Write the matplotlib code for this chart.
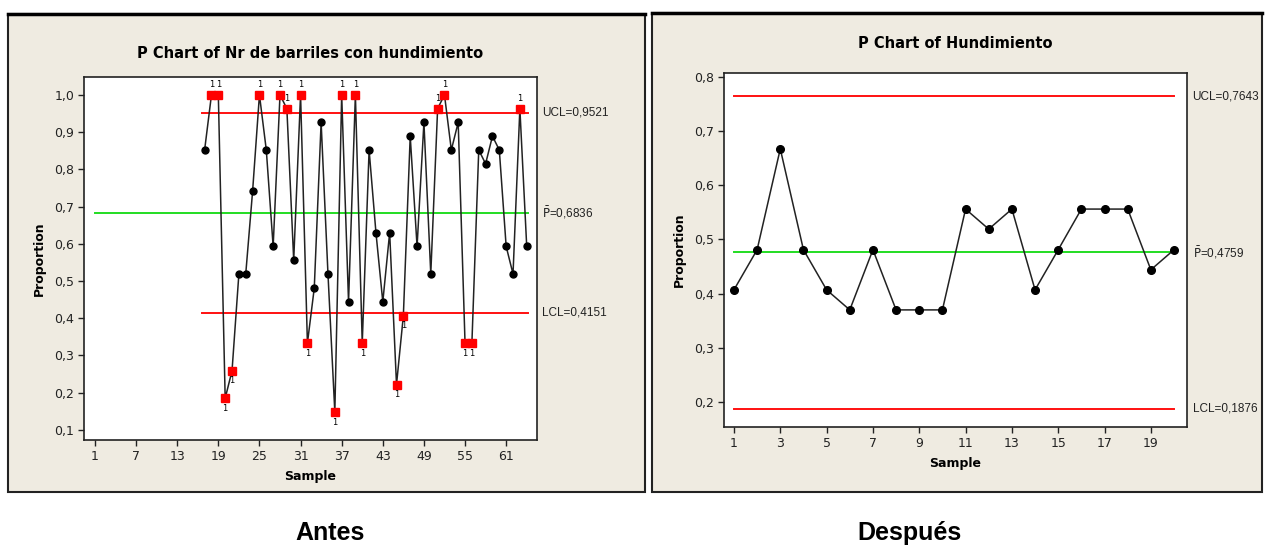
import matplotlib
matplotlib.use('Agg')
import matplotlib.pyplot as plt
from matplotlib.patches import Rectangle
from matplotlib.lines import Line2D

plt.rcParams['font.family'] = 'DejaVu Sans'

# ---- data: "Antes" (before), n = 27 per sample ----
antes_samples = list(range(17, 65))
antes_prop = [0.852, 1.0, 1.0, 0.185, 0.259, 0.519, 0.519, 0.741, 1.0, 0.852,
              0.593, 1.0, 0.963, 0.556, 1.0, 0.333, 0.481, 0.926, 0.519, 0.148,
              1.0, 0.444, 1.0, 0.333, 0.852, 0.630, 0.444, 0.630, 0.222, 0.407,
              0.889, 0.593, 0.926, 0.519, 0.963, 1.0, 0.852, 0.926, 0.333, 0.333,
              0.852, 0.815, 0.889, 0.852, 0.593, 0.519, 0.963, 0.593]
antes_ucl, antes_pbar, antes_lcl = 0.9521, 0.6836, 0.4151
antes_xticks = [1, 7, 13, 19, 25, 31, 37, 43, 49, 55, 61]
antes_yticks = [0.1, 0.2, 0.3, 0.4, 0.5, 0.6, 0.7, 0.8, 0.9, 1.0]
antes_ylabels = ['0,1', '0,2', '0,3', '0,4', '0,5', '0,6', '0,7', '0,8', '0,9', '1,0']

# ---- data: "Después" (after) ----
despues_samples = list(range(1, 21))
despues_prop = [0.407, 0.481, 0.667, 0.481, 0.407, 0.370, 0.481, 0.370, 0.370, 0.370,
                0.556, 0.519, 0.556, 0.407, 0.481, 0.556, 0.556, 0.556, 0.444, 0.481]
despues_ucl, despues_pbar, despues_lcl = 0.7643, 0.4759, 0.1876
despues_xticks = [1, 3, 5, 7, 9, 11, 13, 15, 17, 19]
despues_yticks = [0.2, 0.3, 0.4, 0.5, 0.6, 0.7, 0.8]
despues_ylabels = ['0,2', '0,3', '0,4', '0,5', '0,6', '0,7', '0,8']

W, H = 1266, 548
fig = plt.figure(figsize=(W / 100, H / 100), dpi=100)
bg = '#EFEBE1'


def px_rect(x0, y0, x1, y1):
    # pixel box (top-left origin) -> figure fraction rect
    return [x0 / W, 1 - y1 / H, (x1 - x0) / W, (y1 - y0) / H]


# panel backgrounds and frames (behind the axes)
for (x0, y0, x1, y1) in [(8, 14, 645, 492), (652, 13, 1262, 492)]:
    r = px_rect(x0, y0, x1, y1)
    fig.add_artist(Rectangle((r[0], r[1]), r[2], r[3], transform=fig.transFigure,
                             facecolor=bg, edgecolor='#222222', linewidth=1.5, zorder=-2))
    fig.add_artist(Line2D([r[0], r[0] + r[2]], [r[1] + r[3]] * 2, transform=fig.transFigure,
                          color='black', linewidth=2.5, zorder=-1))


def style_axes(ax, xticks, yticks, ylabels):
    ax.set_facecolor('white')
    for s in ax.spines.values():
        s.set_color('#222222')
        s.set_linewidth(1.2)
    ax.set_xticks(xticks)
    ax.set_xticklabels([str(t) for t in xticks])
    ax.set_yticks(yticks)
    ax.set_yticklabels(ylabels)
    ax.tick_params(direction='out', length=4, width=1, labelsize=9, colors='#222222', pad=3)
    ax.set_ylabel('Proportion', fontsize=9, fontweight='bold', labelpad=6)
    ax.set_xlabel('Sample', fontsize=9, fontweight='bold', labelpad=5)


def limit_labels(ax, x, items):
    for val, lab in items:
        ax.text(x, val, lab, transform=ax.get_yaxis_transform(), fontsize=8.5,
                va='center', ha='left', color='#222222', family='Liberation Sans')


# ---- left chart ----
ax1 = fig.add_axes(px_rect(84, 77, 537, 440))
style_axes(ax1, antes_xticks, antes_yticks, antes_ylabels)
ax1.set_xlim(-0.6, 65.5)
ax1.set_ylim(0.073, 1.048)
ax1.plot([16.6, 64.2], [antes_ucl] * 2, color='#FF1010', lw=1.4, zorder=1)
ax1.plot([16.6, 64.2], [antes_lcl] * 2, color='#FF1010', lw=1.4, zorder=1)
ax1.plot([1, 64.2], [antes_pbar] * 2, color='#22DD22', lw=1.4, zorder=1)
ax1.plot(antes_samples, antes_prop, color='#222222', lw=1.1, zorder=2)
for s, p in zip(antes_samples, antes_prop):
    out = p > antes_ucl or p < antes_lcl
    if out:
        ax1.plot(s, p, 's', color='#FF0000', ms=5.5, zorder=3, clip_on=False)
        if p > antes_ucl:
            ax1.annotate('1', (s, p), xytext=(0, 4), textcoords='offset points',
                         ha='center', va='bottom', fontsize=6, annotation_clip=False)
        else:
            ax1.annotate('1', (s, p), xytext=(0, -4), textcoords='offset points',
                         ha='center', va='top', fontsize=6)
    else:
        ax1.plot(s, p, 'o', color='black', ms=5, zorder=3)
ax1.set_title('P Chart of Nr de barriles con hundimiento', fontsize=10.5,
              fontweight='bold', pad=14)
limit_labels(ax1, 1.012, [(antes_ucl, 'UCL=0,9521'),
                          (antes_pbar, r'$\bar{\mathrm{P}}$=0,6836'),
                          (antes_lcl, 'LCL=0,4151')])

# ---- right chart ----
ax2 = fig.add_axes(px_rect(724, 73, 1187, 427))
style_axes(ax2, despues_xticks, despues_yticks, despues_ylabels)
ax2.set_xlim(0.57, 20.56)
ax2.set_ylim(0.154, 0.807)
ax2.plot([1, 20], [despues_ucl] * 2, color='#FF1010', lw=1.4, zorder=1)
ax2.plot([1, 20], [despues_lcl] * 2, color='#FF1010', lw=1.4, zorder=1)
ax2.plot([1, 20], [despues_pbar] * 2, color='#22DD22', lw=1.4, zorder=1)
ax2.plot(despues_samples, despues_prop, color='#222222', lw=1.1, marker='o',
         ms=5.5, mfc='black', mec='black', zorder=2)
ax2.set_title('P Chart of Hundimiento', fontsize=10.5, fontweight='bold', pad=18)
limit_labels(ax2, 1.012, [(despues_ucl, 'UCL=0,7643'),
                          (despues_pbar, r'$\bar{\mathrm{P}}$=0,4759'),
                          (despues_lcl, 'LCL=0,1876')])

# captions under the two panels
fig.text(330 / W, 1 - 533 / H, 'Antes', fontsize=18, fontweight='bold',
         ha='center', va='center', family='Liberation Sans')
fig.text(910 / W, 1 - 533 / H, 'Después', fontsize=18, fontweight='bold',
         ha='center', va='center', family='Liberation Sans')

fig.savefig('out.png', dpi=100, facecolor='white')
